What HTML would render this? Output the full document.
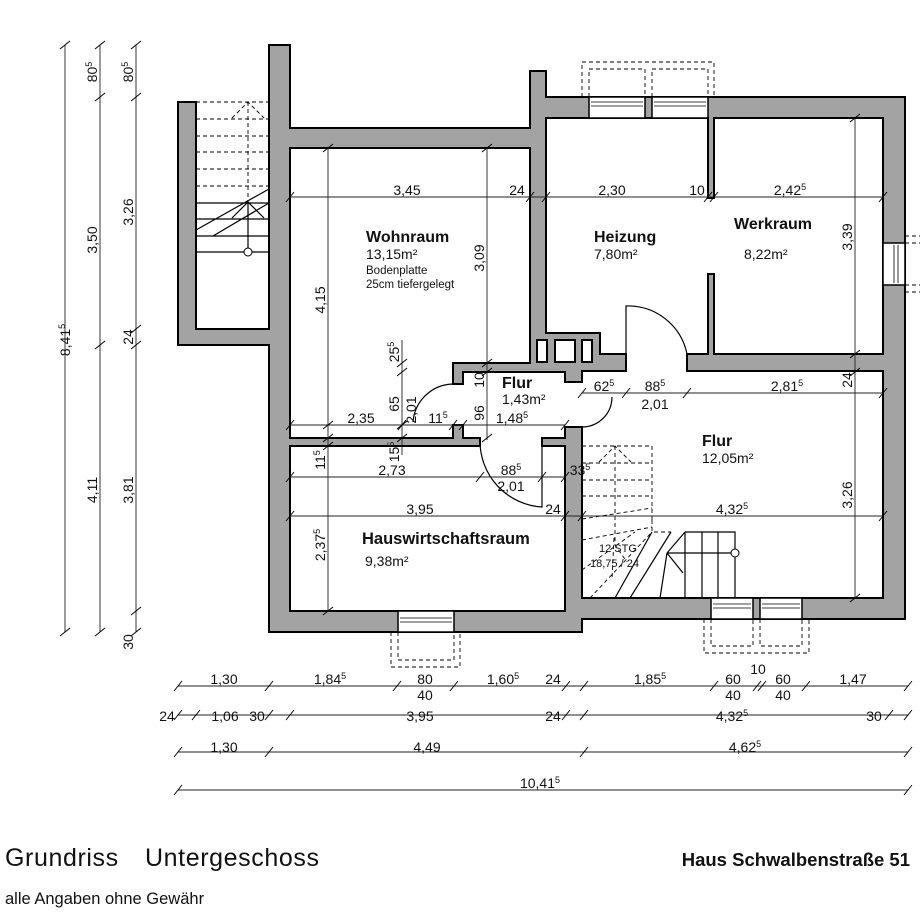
<!DOCTYPE html>
<html><head><meta charset="utf-8"><style>
html,body{margin:0;padding:0;background:#fff;}
svg{display:block;}
text{font-family:"Liberation Sans",sans-serif;fill:#111;}
.d{font-size:14px;}
.s{font-size:9px;}
</style></head><body>
<svg id="s" width="920" height="920" viewBox="0 0 920 920" xmlns="http://www.w3.org/2000/svg">
<rect width="920" height="920" fill="#fff"/>
<path d="M269,45 H290 V128 H530 V71 H546 V97 H905 V619 H582 V632 H269 V345 H178 V102 H196 V329 H269 Z" fill="#a3a3a3" stroke="#000" stroke-width="2"/>
<g fill="#fff" stroke="#000" stroke-width="2">
<path d="M290,148 H530 V363 H453 V438 H290 Z"/>
<path d="M463,372 H565 V438 H463 Z"/>
<path d="M290,446 H565 V611 H290 Z"/>
<path d="M582,371 H883 V598 H582 Z"/>
<path d="M546,118 H708 V354 H600 V333 H546 Z"/>
<path d="M714,118 H883 V354 H714 Z"/>
<rect x="537" y="340" width="10" height="22"/>
<rect x="555" y="340" width="20" height="22"/>
<rect x="582" y="340" width="10" height="22"/>
</g>
<g fill="#fff">
<rect x="452" y="385" width="12" height="39"/>
<rect x="481" y="437" width="60" height="10"/>
<rect x="564" y="383" width="19" height="43"/>
<rect x="627" y="353" width="59" height="19"/>
<rect x="707" y="199" width="8" height="74"/>
</g>
<g stroke="#000" stroke-width="2" fill="none">
<path d="M453,384 H463 M453,425 H463 M480,438 V446 M542,438 V446 M565,382 H582 M565,427 H582 M626,354 V371 M687,354 V371 M708,198 H714 M708,274 H714"/>
</g>
<g stroke="#000" stroke-width="1.2" fill="none">
<path d="M453,384 A41,41 0 0 0 413,422"/>
<path d="M542,438 V507 A66,66 0 0 1 480,440"/>
<path d="M582,427 A30,30 0 0 0 612,397"/>
<path d="M626,354 V306 A60,60 0 0 1 687,354"/>
</g>
<g fill="#fff" stroke="#000" stroke-width="1.5">
<rect x="589" y="97" width="56" height="21"/><rect x="652" y="97" width="56" height="21"/>
<rect x="398" y="611" width="56" height="21"/>
<rect x="711" y="598" width="42" height="21"/><rect x="760" y="598" width="42" height="21"/>
<rect x="883" y="243" width="22" height="42"/>
</g>
<g stroke="#000" stroke-width="0.8" fill="none">
<path d="M591,102 H643 M591,106 H643 M654,102 H706 M654,106 H706 M400,618 H452 M400,622 H452 M713,604 H751 M713,608 H751 M762,604 H800 M762,608 H800 M894,245 V283 M898,245 V283"/>
</g>
<g stroke="#000" stroke-width="0.9" fill="none" stroke-dasharray="4,3">
<path d="M582,97 V62 H714 V97 M589,97 V69 H645 V97 M652,97 V69 H708 V97"/>
<path d="M391,632 V667 H460 V632 M398,632 V660 H454 V632"/>
<path d="M704,619 V653 H809 V619 M711,619 V646 H753 V619 M760,619 V646 H802 V619"/>
<path d="M905,236 H920 M905,243 H920 M905,285 H920 M905,292 H920"/>
<path d="M196,102 H269 M196,119 H269 M196,136 H269 M196,152 H269 M196,169 H269 M196,186 H269 M248,102 V200 M232,118 L248,102 L264,118"/>
<path d="M582,446 H652 V520 M582,463 H652 M582,480 H652 M582,496 H652 M582,519 L652,508 M582,540 L652,527 M615,446 V545 L627,562 M599,462 L615,446 L631,462 M652,520 L652,532 H671 M582,570 L635,532 M590,598 L652,532 M614,538 L612,580"/>
</g>
<g stroke="#000" stroke-width="1.2" fill="none">
<path d="M196,203 H269 M196,219 H269 M196,236 H269 M196,252 H269 M196,230 L269,189 M213,236 L269,203 M248,200 V248 M232,218 L248,202 L264,218"/>
<path d="M685,532 H735 V598 M685,532 V598 M702,532 V598 M718,532 V598 M667,553 H731 M685,532 L667,553 M660,598 L667,553 M667,553 L683,573 M671,532 L630,598 M652,532 L615,598"/>
</g>
<circle cx="248" cy="252" r="4" fill="#fff" stroke="#000"/>
<circle cx="735" cy="553" r="4" fill="#fff" stroke="#000"/>
<g stroke="#222" stroke-width="0.9" fill="none">
<path d="M65,45 V632 M100,45 V632 M136,45 V632"/>
<path d="M178,686 H908 M178,715 H908 M178,752 H908 M178,790 H908"/>
<path d="M290,197 H883 M290,425 H565 M402,340 V455 M582,393 H883 M290,477 H565 M290,516 H883"/>
<path d="M328,148 V611 M487,148 V440 M855,118 V598"/>
</g>
<g id="ticks" stroke="#000" stroke-width="1"></g>
<g class="d">
<text transform="translate(70,340) rotate(-90)" text-anchor="middle">8,41<tspan class="s" dy="-5">5</tspan></text>
<text transform="translate(97,72) rotate(-90)" text-anchor="middle">80<tspan class="s" dy="-5">5</tspan></text>
<text transform="translate(97,240) rotate(-90)" text-anchor="middle">3,50</text>
<text transform="translate(97,490) rotate(-90)" text-anchor="middle">4,11</text>
<text transform="translate(133,72) rotate(-90)" text-anchor="middle">80<tspan class="s" dy="-5">5</tspan></text>
<text transform="translate(133,212) rotate(-90)" text-anchor="middle">3,26</text>
<text transform="translate(133,337) rotate(-90)" text-anchor="middle">24</text>
<text transform="translate(133,490) rotate(-90)" text-anchor="middle">3,81</text>
<text transform="translate(133,642) rotate(-90)" text-anchor="middle">30</text>
<text x="224" y="684" text-anchor="middle">1,30</text>
<text x="330" y="684" text-anchor="middle">1,84<tspan class="s" dy="-5">5</tspan></text>
<text x="425" y="684" text-anchor="middle">80</text><text x="425" y="700" text-anchor="middle">40</text>
<text x="503" y="684" text-anchor="middle">1,60<tspan class="s" dy="-5">5</tspan></text>
<text x="553" y="684" text-anchor="middle">24</text>
<text x="650" y="684" text-anchor="middle">1,85<tspan class="s" dy="-5">5</tspan></text>
<text x="733" y="684" text-anchor="middle">60</text><text x="733" y="700" text-anchor="middle">40</text>
<text x="758" y="674" text-anchor="middle">10</text>
<text x="783" y="684" text-anchor="middle">60</text><text x="783" y="700" text-anchor="middle">40</text>
<text x="853" y="684" text-anchor="middle">1,47</text>
<text x="167" y="721" text-anchor="middle">24</text>
<text x="225" y="721" text-anchor="middle">1,06</text>
<text x="257" y="721" text-anchor="middle">30</text>
<text x="420" y="721" text-anchor="middle">3,95</text>
<text x="553" y="721" text-anchor="middle">24</text>
<text x="732" y="721" text-anchor="middle">4,32<tspan class="s" dy="-5">5</tspan></text>
<text x="874" y="721" text-anchor="middle">30</text>
<text x="224" y="752" text-anchor="middle">1,30</text>
<text x="427" y="752" text-anchor="middle">4,49</text>
<text x="745" y="752" text-anchor="middle">4,62<tspan class="s" dy="-5">5</tspan></text>
<text x="540" y="788" text-anchor="middle">10,41<tspan class="s" dy="-5">5</tspan></text>
<text x="407" y="195" text-anchor="middle">3,45</text>
<text x="517" y="195" text-anchor="middle">24</text>
<text x="612" y="195" text-anchor="middle">2,30</text>
<text x="697" y="195" text-anchor="middle">10</text>
<text x="790" y="195" text-anchor="middle">2,42<tspan class="s" dy="-5">5</tspan></text>
<text x="361" y="423" text-anchor="middle">2,35</text>
<text x="438" y="423" text-anchor="middle">11<tspan class="s" dy="-5">5</tspan></text>
<text x="512" y="423" text-anchor="middle">1,48<tspan class="s" dy="-5">5</tspan></text>
<text x="604" y="391" text-anchor="middle">62<tspan class="s" dy="-5">5</tspan></text>
<text x="655" y="391" text-anchor="middle">88<tspan class="s" dy="-5">5</tspan></text>
<text x="655" y="409" text-anchor="middle">2,01</text>
<text x="787" y="391" text-anchor="middle">2,81<tspan class="s" dy="-5">5</tspan></text>
<text x="392" y="475" text-anchor="middle">2,73</text>
<text x="511" y="475" text-anchor="middle">88<tspan class="s" dy="-5">5</tspan></text>
<text x="511" y="491" text-anchor="middle">2,01</text>
<text x="580" y="475" text-anchor="middle">33<tspan class="s" dy="-5">5</tspan></text>
<text x="420" y="514" text-anchor="middle">3,95</text>
<text x="553" y="514" text-anchor="middle">24</text>
<text x="732" y="514" text-anchor="middle">4,32<tspan class="s" dy="-5">5</tspan></text>
<text transform="translate(325,300) rotate(-90)" text-anchor="middle">4,15</text>
<text transform="translate(325,460) rotate(-90)" text-anchor="middle">11<tspan class="s" dy="-5">5</tspan></text>
<text transform="translate(325,545) rotate(-90)" text-anchor="middle">2,37<tspan class="s" dy="-5">5</tspan></text>
<text transform="translate(484,258) rotate(-90)" text-anchor="middle">3,09</text>
<text transform="translate(484,380) rotate(-90)" text-anchor="middle">10</text>
<text transform="translate(484,413) rotate(-90)" text-anchor="middle">96</text>
<text transform="translate(399,352) rotate(-90)" text-anchor="middle">25<tspan class="s" dy="-5">5</tspan></text>
<text transform="translate(399,404) rotate(-90)" text-anchor="middle">65</text>
<text transform="translate(416,410) rotate(-90)" text-anchor="middle">2,01</text>
<text transform="translate(399,452) rotate(-90)" text-anchor="middle">15<tspan class="s" dy="-5">5</tspan></text>
<text transform="translate(852,237) rotate(-90)" text-anchor="middle">3,39</text>
<text transform="translate(852,380) rotate(-90)" text-anchor="middle">24</text>
<text transform="translate(852,495) rotate(-90)" text-anchor="middle">3,26</text>
</g>
<text x="366" y="242" font-size="16" font-weight="bold">Wohnraum</text>
<text x="366" y="259" font-size="14">13,15m²</text>
<text x="366" y="274" font-size="11.5">Bodenplatte</text>
<text x="366" y="288" font-size="11.5">25cm tiefergelegt</text>
<text x="594" y="242" font-size="16" font-weight="bold">Heizung</text>
<text x="594" y="259" font-size="14">7,80m²</text>
<text x="734" y="229" font-size="16" font-weight="bold">Werkraum</text>
<text x="744" y="259" font-size="14">8,22m²</text>
<text x="502" y="388" font-size="16" font-weight="bold">Flur</text>
<text x="502" y="404" font-size="14">1,43m²</text>
<text x="702" y="446" font-size="16" font-weight="bold">Flur</text>
<text x="702" y="463" font-size="14">12,05m²</text>
<text x="362" y="544" font-size="16.5" font-weight="bold">Hauswirtschaftsraum</text>
<text x="365" y="566" font-size="14">9,38m²</text>
<text x="599" y="552" font-size="11">12 STG</text>
<text x="590" y="567" font-size="11">18,75 / 24</text>
<text x="5" y="866" font-size="25" letter-spacing="0.6" font-weight="300">Grundriss<tspan x="145">Untergeschoss</tspan></text>
<text x="910" y="866" font-size="18.5" font-weight="bold" text-anchor="end">Haus Schwalbenstraße 51</text>
<text x="5" y="904" font-size="16.5">alle Angaben ohne Gewähr</text>
</svg>
<script>
var g=document.getElementById('ticks'),d='';
function h(y,xs){xs.forEach(function(x){d+='M'+(x-4)+','+(y+5)+'L'+(x+4)+','+(y-5);});}
function v(x,ys){ys.forEach(function(y){d+='M'+(x-5)+','+(y+4)+'L'+(x+5)+','+(y-4);});}
v(65,[45,632]);v(100,[45,97,345,632]);v(136,[45,97,329,345,611,632]);
h(686,[178,269,397,454,566,584,714,757,762,806,908]);
h(715,[178,196,269,290,566,584,889,908]);
h(752,[178,269,584,908]);h(790,[178,908]);
h(197,[290,530,546,708,714,883]);h(425,[290,402,453,463,565]);
h(393,[582,626,687,883]);h(477,[290,480,542,565]);h(516,[290,565,582,883]);
v(328,[148,425,438,446,611]);v(487,[148,363,372,438]);v(402,[363,372,425,438]);v(855,[118,354,372,598]);
var p=document.createElementNS('http://www.w3.org/2000/svg','path');p.setAttribute('d',d);p.setAttribute('fill','none');g.appendChild(p);
</script>
</body></html>
